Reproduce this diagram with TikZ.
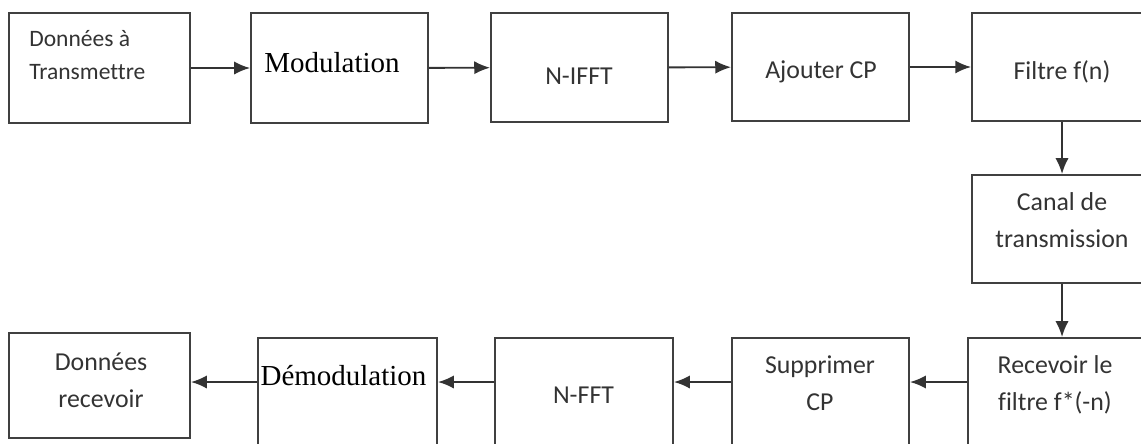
\documentclass[tikz,border=0pt]{standalone}
\usepackage{fontspec}
\setmainfont[Ligatures=NoCommon]{Carlito}
\newfontfamily\serifmod{Liberation Serif}
\usetikzlibrary{arrows.meta}
\begin{document}
\begin{tikzpicture}[x=0.02cm,y=-0.02cm,
        box/.style={rectangle,draw=black!75,line width=1.1pt,inner sep=0pt},
        lbl/.style={text=black!80,align=center,font=\fontsize{14.7}{21}\selectfont,inner sep=0pt},
        serif/.style={text=black,inner sep=0pt,font=\serifmod\fontsize{16.5}{20}\selectfont}]
        \tikzset{edge/.style = {->,> = {Latex[length=9pt,width=7.5pt]},draw=black!80,line width=1.1pt}}
        \useasboundingbox (0,0) rectangle (1141,443);
        % emission
        \node[box,minimum width=3.62cm,minimum height=2.2cm] (tx) at (99.5,68) {};
        \node[box,minimum width=3.54cm,minimum height=2.2cm] (mod) at (339.5,68) {};
        \node[box,minimum width=3.54cm,minimum height=2.18cm] (ifft) at (579.5,67.5) {};
        \node[box,minimum width=3.54cm,minimum height=2.16cm] (addcp) at (820.5,67) {};
        \node[box,minimum width=3.6cm,minimum height=2.16cm] (filt) at (1062,67) {};
        \node[box,minimum width=3.6cm,minimum height=2.16cm] (canal) at (1062,229) {};
        % reception
        \node[box,minimum width=3.76cm,minimum height=2.24cm] (recv) at (1062,394) {};
        \node[box,minimum width=3.54cm,minimum height=2.24cm] (supp) at (820.5,394) {};
        \node[box,minimum width=3.56cm,minimum height=2.24cm] (nfft) at (584,394) {};
        \node[box,minimum width=3.58cm,minimum height=2.24cm] (demod) at (347.5,394) {};
        \node[box,minimum width=3.62cm,minimum height=2.1cm] (rx) at (99.5,385.5) {};
        
        \node[lbl,align=left,anchor=west,font=\fontsize{13.4}{18.7}\selectfont] (txtxt) at (29,55) {Données à\\Transmettre};
        \node[serif] (modtxt) at (332,63) {Modulation};
        \node[lbl] (iffttxt) at (579,76) {N-IFFT};
        \node[lbl] (addcptxt) at (821,72) {Ajouter CP};
        \node[lbl] (filttxt) at (1062,72) {Filtre f(n)};
        \node[lbl] (canaltxt) at (1062,220) {Canal de\\transmission};
        \node[lbl] (recvtxt) at (1055,385) {Recevoir le\\filtre f*(-n)};
        \node[lbl] (supptxt) at (820,383) {Supprimer\\CP};
        \node[lbl] (nffttxt) at (583.5,395.5) {N-FFT};
        \node[serif] (demodtxt) at (343.5,376) {Démodulation};
        \node[lbl] (rxtxt) at (101,380) {Données\\recevoir};
        
        \draw[edge] (tx) to (mod);
        \draw[edge] (mod) to (ifft);
        \draw[edge] (ifft) to (addcp);
        \draw[edge] (addcp) to (filt);
        \draw[edge] (filt) to (canal);
        \draw[edge] (canal) to (recv);
        
        \draw[edge] ([yshift=0.24cm]recv.west) to ([yshift=0.24cm]supp.east);
        \draw[edge] ([yshift=0.24cm]supp.west) to ([yshift=0.24cm]nfft.east);
        \draw[edge] ([yshift=0.24cm]nfft.west) to ([yshift=0.24cm]demod.east);
        \draw[edge] ([yshift=0.24cm]demod.west) to ([yshift=0.07cm]rx.east);
\end{tikzpicture}
\end{document}
